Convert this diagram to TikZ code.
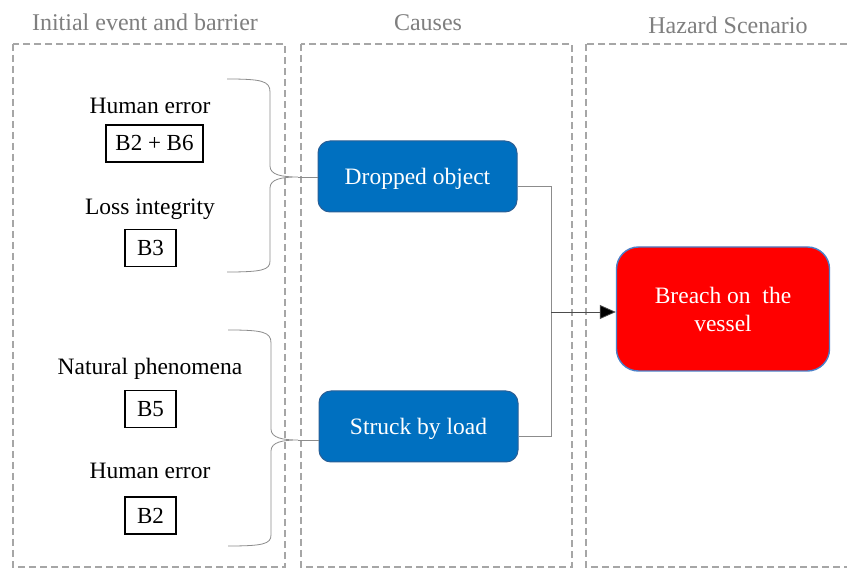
\documentclass[tikz,border=0pt]{standalone}
\usepackage{fontspec}
\setmainfont{Liberation Serif}
\usetikzlibrary{arrows.meta,calc}

\definecolor{colgray}{HTML}{A6A6A6}
\definecolor{headgray}{HTML}{7F7F7F}
\definecolor{causeblue}{HTML}{0070C0}
\definecolor{causeedge}{HTML}{2A5F96}
\definecolor{hazardred}{HTML}{FF0000}
\definecolor{hazardedge}{HTML}{4A7FC8}
\definecolor{linkgray}{HTML}{8C8C8C}

\tikzset{
  column/.style={draw=colgray, line width=1.2pt, dash pattern=on 7pt off 4pt},
  header/.style={text=headgray, font=\fontsize{24}{28}\selectfont},
  label/.style={font=\fontsize{23.5}{28}\selectfont, inner sep=0pt},
  barrier/.style={draw=black, line width=1.2pt, fill=white, minimum height=37pt,
    inner sep=0pt, font=\fontsize{23}{27}\selectfont},
  cause/.style={draw=causeedge, line width=1pt, fill=causeblue, text=white,
    rounded corners=12pt, minimum width=199pt, minimum height=71pt,
    text height=16pt, text depth=0pt,
    font=\fontsize{23.5}{28}\selectfont},
  hazard/.style={draw=hazardedge, line width=1.4pt, fill=hazardred, text=white,
    rounded corners=22pt, minimum width=213pt, minimum height=124pt,
    align=center, font=\fontsize{23.5}{28}\selectfont},
  brace/.style={draw=linkgray, line width=0.8pt},
  link/.style={draw=linkgray, line width=0.8pt},
  arrowlink/.style={draw=black!70, line width=0.8pt,
    -{Triangle[length=16pt,width=14pt,fill=black]}}
}

\begin{document}
\begin{tikzpicture}[x=1pt,y=-1pt]
  \useasboundingbox (0,0) rectangle (847,569);
  \fill[white] (0,0) rectangle (847,569);

  % three dashed columns
  \draw[column] (13,44) rectangle (285,567);
  \draw[column] (301,44) rectangle (572,567);
  \draw[column] (586,44) rectangle (870,567);

  % column headings
  \node[header] (h1) at (145,22) {Initial event and barrier};
  \node[header] (h2) at (428,23) {Causes};
  \node[header] (h3) at (728,25) {Hazard Scenario};

  % initial events with their barriers
  \node[label] (e1) at (150,106) {Human error};
  \node[barrier, minimum width=97pt] (b1) at (154.5,143.5) {B2 + B6};
  \node[label] (e2) at (150,209) {Loss integrity};
  \node[barrier, minimum width=51pt] (b2) at (150.5,248) {B3};
  \node[label] (e3) at (150,369) {Natural phenomena};
  \node[barrier, minimum width=51pt] (b3) at (150.5,409) {B5};
  \node[label] (e4) at (150,471) {Human error};
  \node[barrier, minimum width=51pt] (b4) at (150.5,515.5) {B2};

  % causes
  \node[cause] (drop) at (417.5,176.5) {Dropped object};
  \node[cause] (struck) at (418.5,426.5) {Struck by load};

  % hazard
  \node[hazard] (breach) at (723,309) {Breach on\ \ the\\vessel};

  % upper brace
  \coordinate (tipA) at (298,177);
  \draw[brace] (227,79) .. controls (262,79) and (270,81) .. (270,92)
    -- (270,166) .. controls (270,175) and (282,177) .. (tipA)
    .. controls (282,177) and (270,179) .. (270,188)
    -- (270,261) .. controls (270,270) and (262,272) .. (227,272);
  \draw[brace] (tipA) -- (tipA -| drop.west);

  % lower brace
  \coordinate (tipB) at (298,440);
  \draw[brace] (228,330) .. controls (263,330) and (271,332) .. (271,343)
    -- (271,429) .. controls (271,438) and (283,440) .. (tipB)
    .. controls (283,440) and (271,442) .. (271,451)
    -- (271,535) .. controls (271,544) and (263,546) .. (228,546);
  \draw[brace] (tipB) -- (tipB -| struck.west);

  % causes joined into the hazard
  \coordinate (jn) at (551,312);
  \draw[link] ([yshift=-10pt]drop.east) -| (jn);
  \draw[link] ([yshift=-10pt]struck.east) -| (jn);
  \draw[arrowlink] (jn) -- (jn -| breach.west);
\end{tikzpicture}
\end{document}
